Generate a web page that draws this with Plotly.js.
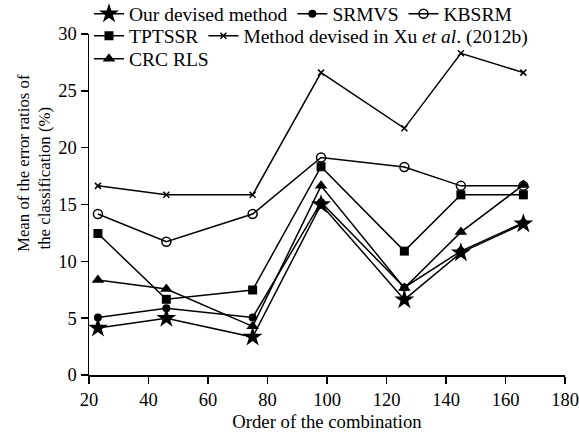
<!DOCTYPE html>
<html>
<head>
<meta charset="utf-8">
<script src="https://cdn.plot.ly/plotly-3.0.1.min.js"></script>
<style>html,body{margin:0;padding:0;background:#fff;}#chart{width:579px;height:432px;}</style>
</head>
<body>
<div id="chart"></div>
<script>
// Data
var order = [23, 46, 75, 98, 126, 145, 166];
var oursDevised = [4.13, 5.0, 3.34, 15.0, 6.63, 10.76, 13.3];
var srmvs = [5.06, 5.87, 5.06, 15.2, 7.7, 10.9, 13.4];
var kbsrm = [14.16, 11.72, 14.16, 19.14, 18.3, 16.64, 16.64];
var tptssr = [12.45, 6.66, 7.48, 18.32, 10.9, 15.85, 15.85];
var xu2012b = [16.64, 15.85, 15.85, 26.6, 21.7, 28.3, 26.6];
var crcRls = [8.35, 7.56, 4.28, 16.64, 7.65, 12.57, 16.72];

var seriesNames = ["Our devised method", "SRMVS", "KBSRM", "TPTSSR",
  "Method devised in Xu <i>et al</i>. (2012b)", "CRC RLS"];
var xTitle = "Order of the combination";
var yTitleLines = ["Mean of the error ratios of", "the classification (%)"];

var FONT = "Liberation Serif, Times New Roman, serif";
var TICK_FS = 18.5, LEG_FS = 19.5, XT_FS = 18.7, YT_FS = 16.8;
var lineStyle = {color: "#000", width: 1.5};

function tr(y, name, marker, legend, rank) {
  return {x: order, y: y, name: name, type: "scatter", mode: "lines+markers",
    line: lineStyle, marker: marker, cliponaxis: false, legend: legend, legendrank: rank};
}

var traces = [
  tr(xu2012b, seriesNames[4], {symbol: "x-thin", size: 6, color: "#000", line: {color: "#000", width: 1.5}}, "legend2", 2),
  tr(kbsrm, seriesNames[2], {symbol: "circle-open", size: 9, color: "#000", line: {color: "#000", width: 1.5}}, "legend", 3),
  tr(tptssr, seriesNames[3], {symbol: "square", size: 9, color: "#000"}, "legend2", 1),
  tr(crcRls, seriesNames[5], {symbol: "triangle-up", size: 11, color: "#000"}, "legend3", 1),
  tr(srmvs, seriesNames[1], {symbol: "circle", size: 8, color: "#000"}, "legend", 2),
  tr(oursDevised, seriesNames[0], {symbol: "star", size: 15, color: "#000"}, "legend", 1)
];

function leg(yFrac) {
  return {
    orientation: "h", x: 0, xref: "paper", xanchor: "left",
    y: yFrac, yref: "container", yanchor: "middle",
    bgcolor: "rgba(0,0,0,0)", borderwidth: 0,
    font: {family: FONT, size: LEG_FS, color: "#000"},
    traceorder: "normal"
  };
}

var layout = {
  width: 579, height: 432,
  margin: {l: 89, r: 14, t: 34, b: 57, pad: 0, autoexpand: false},
  paper_bgcolor: "#fff", plot_bgcolor: "#fff",
  font: {family: FONT, size: TICK_FS, color: "#000"},
  showlegend: true,
  legend: leg(1 - 14 / 432),
  legend2: leg(1 - 36 / 432),
  legend3: leg(1 - 59 / 432),
  xaxis: {
    range: [20, 180], tickvals: [20, 40, 60, 80, 100, 120, 140, 160, 180],
    showgrid: false, zeroline: false, showline: true, linecolor: "#000", linewidth: 1.5,
    ticks: "outside", ticklen: 7, tickwidth: 1.5, tickcolor: "#000",
    tickfont: {family: FONT, size: TICK_FS, color: "#000"},
    title: {text: xTitle, font: {family: FONT, size: XT_FS, color: "#000"}, standoff: 6}
  },
  yaxis: {
    range: [0, 30], tickvals: [0, 5, 10, 15, 20, 25, 30],
    showgrid: false, zeroline: false, showline: true, linecolor: "#000", linewidth: 1.5,
    ticks: "outside", ticklen: 7, tickwidth: 1.5, tickcolor: "#000",
    tickfont: {family: FONT, size: TICK_FS, color: "#000"}
  },
  annotations: [{
    text: yTitleLines[0],
    xref: "paper", yref: "paper", x: (23 - 89) / 476, y: (375 - 254) / 341,
    xanchor: "center", yanchor: "bottom", textangle: -90,
    showarrow: false, font: {family: FONT, size: YT_FS, color: "#000"}
  }, {
    text: yTitleLines[1],
    xref: "paper", yref: "paper", x: (44 - 89) / 476, y: (375 - 252) / 341,
    xanchor: "center", yanchor: "bottom", textangle: -90,
    showarrow: false, font: {family: FONT, size: YT_FS, color: "#000"}
  }]
};

Plotly.newPlot("chart", traces, layout, {staticPlot: true, displayModeBar: false});
</script>
</body>
</html>
